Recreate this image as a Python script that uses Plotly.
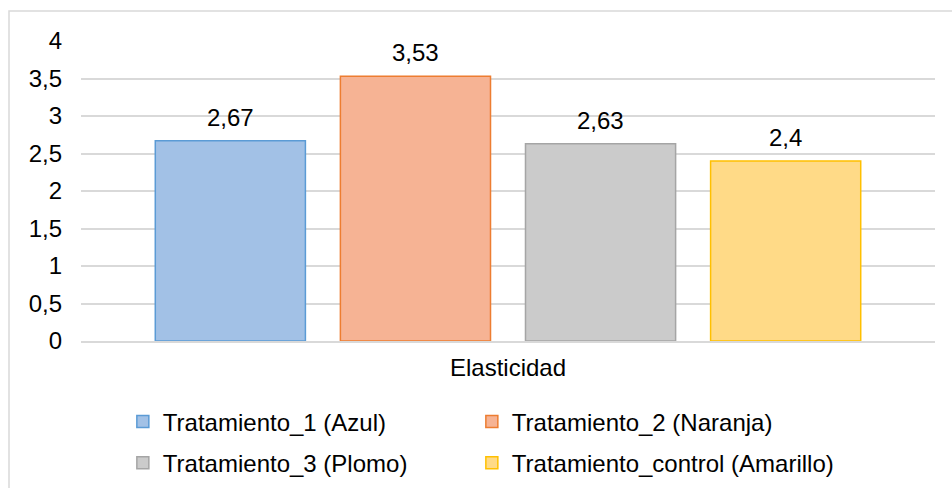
import plotly.graph_objects as go

# Elasticity result per treatment
categoria = ["Elasticidad"]
series = ["Tratamiento_1 (Azul)", "Tratamiento_2 (Naranja)",
          "Tratamiento_3 (Plomo)", "Tratamiento_control (Amarillo)"]
valores = [2.67, 3.53, 2.63, 2.4]
y_ticks = [0, 0.5, 1, 1.5, 2, 2.5, 3, 3.5, 4]

rellenos = ["#a2c1e6", "#f6b394", "#cbcbcb", "#ffda87"]
bordes = ["#5b9bd5", "#ed7d31", "#a5a5a5", "#ffc000"]

FONT = "Liberation Sans, Arial, sans-serif"
FS = 24
SLOT_PX = 185   # horizontal width of one series slot inside the group
COL_PX = 349    # distance between the two legend columns

# legend grid: two columns, two rows, one legend box per entry
ley_ids = ["legend", "legend2", "legend3", "legend4"]
ley_x = [0.049, 0.049 + COL_PX / 854, 0.049, 0.049 + COL_PX / 854]
ley_y = [-0.27, -0.27, -0.407, -0.407]

fig = go.Figure()
for i, (nombre, v) in enumerate(zip(series, valores)):
    fig.add_trace(go.Bar(
        x=categoria, y=[v], name=nombre,
        marker=dict(color=rellenos[i], line=dict(color=bordes[i], width=1.5)),
        legend=ley_ids[i],
        hoverinfo="skip",
    ))
    fig.add_annotation(
        x=categoria[0], y=v, xref="x", yref="y",
        text=f"{v:g}".replace(".", ","),
        showarrow=False, yanchor="bottom",
        xshift=(i - (len(series) - 1) / 2) * SLOT_PX, yshift=8,
        font=dict(family=FONT, size=FS, color="#000000"),
    )

grid = "#d9d9d9"
leyendas = {
    lid: dict(orientation="h", x=lx, y=ly, xanchor="left", yanchor="middle",
              bgcolor="rgba(0,0,0,0)", font=dict(family=FONT, size=FS))
    for lid, lx, ly in zip(ley_ids, ley_x, ley_y)
}
fig.update_layout(
    width=952, height=488,
    margin=dict(l=81, r=17, t=41, b=147, autoexpand=False),
    paper_bgcolor="white", plot_bgcolor="white",
    separators=",.",
    font=dict(family=FONT, size=FS, color="#000000"),
    barmode="group", bargap=0.133, bargroupgap=0.189,
    xaxis=dict(range=[-0.5, 0.5], showgrid=False, zeroline=False,
               showline=True, linecolor=grid, linewidth=1.5,
               ticks="", ticklabelstandoff=4),
    yaxis=dict(range=[0, 4], tickvals=y_ticks, showgrid=True,
               gridcolor=grid, gridwidth=1.5, zeroline=False,
               showline=False, ticks="", ticklabelstandoff=18),
    showlegend=True,
    **leyendas,
)

# chart frame
fig.add_shape(type="rect", xref="paper", yref="paper",
              x0=(9 - 81) / 854, x1=1.2, y0=-0.6, y1=(341 - 11) / 300,
              line=dict(color=grid, width=1.5), fillcolor="rgba(0,0,0,0)",
              layer="below")

fig.write_html("out.html")
